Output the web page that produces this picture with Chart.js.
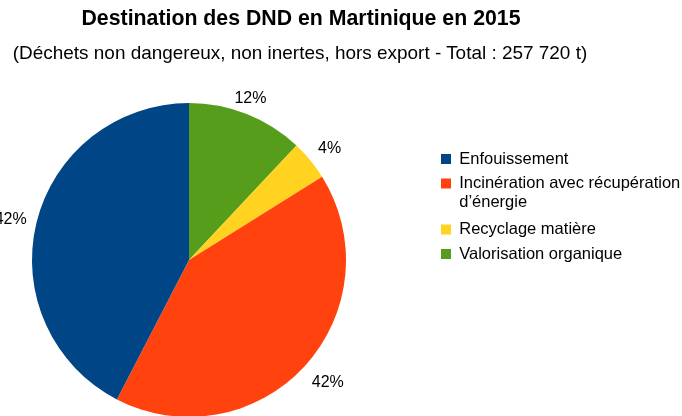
<!DOCTYPE html>
<html>
<head>
<meta charset="utf-8">
<script src="https://cdn.jsdelivr.net/npm/chart.js@4/dist/chart.umd.min.js"></script>
<style>
  html, body { margin: 0; padding: 0; background: #fff; }
  body { width: 682px; height: 416px; position: relative; overflow: hidden; font-family: "Liberation Sans", Arial, sans-serif; }
  #title { position: absolute; left: 0; width: 602px; top: 6px; line-height: 24px; text-align: center; font-weight: bold; font-size: 21.3px; color: #000; white-space: nowrap; }
  #subtitle { position: absolute; left: 0; width: 600px; top: 41px; line-height: 24px; text-align: center; font-size: 18.95px; color: #000; white-space: nowrap; }
  #wrap { position: absolute; left: -55px; top: 0; width: 737px; height: 417px; }
</style>
</head>
<body>
<div id="wrap"><canvas id="c" width="737" height="417"></canvas></div>
<div id="title">Destination des DND en Martinique en 2015</div>
<div id="subtitle">(Déchets non dangereux, non inertes, hors export - Total : 257 720 t)</div>
<script>
// Legend order (top to bottom)
const categories = [
  'Enfouissement',
  'Incinération avec récupération\nd’énergie',
  'Recyclage matière',
  'Valorisation organique'
];
// Share of total (%)
const shares = [42.4, 41.5, 4.1, 12.0];
const sliceColors = ['#004586', '#ff420e', '#ffd320', '#579d1c'];

// The pie is drawn clockwise from 12 o'clock starting with the last category
const drawLabels = categories.slice().reverse();
const drawValues = shares.slice().reverse();
const drawColors = sliceColors.slice().reverse();

const FONT = '"Liberation Sans", Arial, sans-serif';

const pctLabels = {
  id: 'pctLabels',
  afterDatasetsDraw(chart) {
    const meta = chart.getDatasetMeta(0);
    const data = chart.data.datasets[0].data;
    const ctx = chart.ctx;
    ctx.save();
    ctx.font = '16px ' + FONT;
    ctx.fillStyle = '#000';
    meta.data.forEach((arc, i) => {
      const p = arc.getProps(['x', 'y', 'startAngle', 'endAngle', 'outerRadius'], true);
      const mid = (p.startAngle + p.endAngle) / 2;
      const dx = Math.cos(mid), dy = Math.sin(mid);
      const px = p.x + dx * (p.outerRadius + 10);
      const py = p.y + dy * (p.outerRadius + 12);
      ctx.textAlign = dx > 0.4 ? 'left' : (dx < -0.4 ? 'right' : 'center');
      ctx.textBaseline = dy < -0.4 ? 'alphabetic' : (dy > 0.4 ? 'top' : 'middle');
      ctx.fillText(Math.round(data[i]) + '%', px, py);
    });
    ctx.restore();
  }
};

new Chart(document.getElementById('c'), {
  type: 'pie',
  data: {
    labels: drawLabels,
    datasets: [{
      data: drawValues,
      backgroundColor: drawColors,
      borderWidth: 0
    }]
  },
  options: {
    responsive: false,
    animation: false,
    layout: { padding: { left: 0, top: 103, right: 0, bottom: 0 } },
    plugins: {
      tooltip: { enabled: false },
      legend: {
        position: 'right',
        align: 'start',
        reverse: true,
        maxWidth: 249,
        title: { display: true, text: '', font: { size: 12, family: FONT }, padding: { top: 25.35, bottom: 0 } },
        labels: {
          boxWidth: 10,
          boxHeight: 10,
          padding: 8,
          color: '#000',
          font: { size: 16.5, family: FONT, lineHeight: '19px' },
          generateLabels(chart) {
            const items = Chart.overrides.pie.plugins.legend.labels.generateLabels(chart);
            return items.map(it => {
              it.text = it.text.includes('\n') ? it.text.split('\n') : it.text;
              it.lineWidth = 0;
              return it;
            });
          }
        }
      }
    }
  },
  plugins: [pctLabels]
});
</script>
</body>
</html>
